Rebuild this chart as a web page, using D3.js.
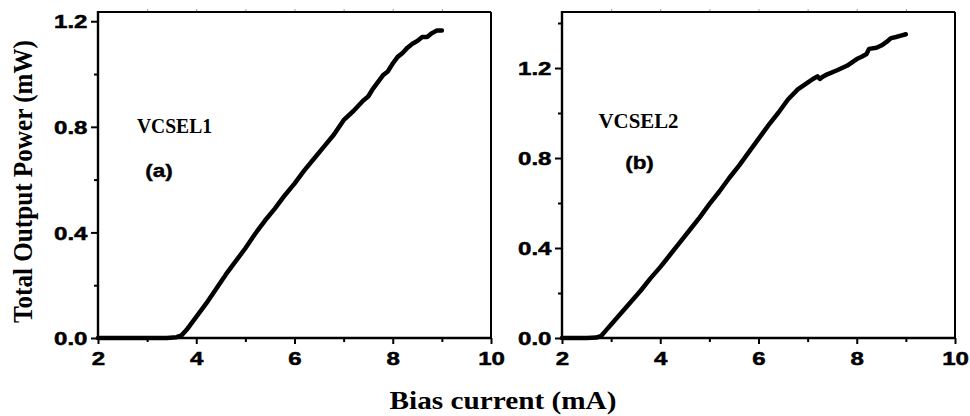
<!DOCTYPE html>
<html>
<head>
<meta charset="utf-8">
<script src="https://cdn.jsdelivr.net/npm/d3@7"></script>
<style>
  html, body { margin: 0; padding: 0; background: #fff; }
  svg { display: block; }
</style>
</head>
<body>
<svg id="chart" width="970" height="416"></svg>
<script>
// ---- Data ----
const xTicks = [2, 4, 6, 8, 10];
const xMinorTicks = [3, 5, 7, 9];
const yTicks = [0.0, 0.4, 0.8, 1.2];
const yMinorTicksA = [0.2, 0.6, 1.0];
const yMinorTicksB = [0.2, 0.6, 1.0, 1.4];

const currentA = [2.0, 2.5, 3.0, 3.4, 3.6, 3.7, 3.8, 4.0, 4.2, 4.4, 4.6, 4.8, 5.0, 5.2, 5.4, 5.6, 5.8, 6.0, 6.2, 6.4, 6.6, 6.8, 7.0, 7.2, 7.4, 7.5, 7.6, 7.8, 7.9, 8.0, 8.1, 8.2, 8.3, 8.4, 8.5, 8.6, 8.7, 8.8, 8.9, 9.0];
const powerA   = [0.0, 0.0, 0.0, 0.0, 0.003, 0.01, 0.03, 0.08, 0.13, 0.185, 0.24, 0.29, 0.34, 0.395, 0.445, 0.49, 0.54, 0.585, 0.635, 0.68, 0.725, 0.77, 0.825, 0.86, 0.9, 0.915, 0.945, 0.995, 1.01, 1.04, 1.065, 1.08, 1.1, 1.115, 1.125, 1.14, 1.14, 1.155, 1.165, 1.165];

const currentB = [2.0, 2.5, 2.7, 2.8, 2.9, 3.0, 3.2, 3.4, 3.6, 3.8, 4.0, 4.2, 4.4, 4.6, 4.8, 5.0, 5.2, 5.4, 5.6, 5.8, 6.0, 6.2, 6.4, 6.6, 6.8, 7.0, 7.1, 7.2, 7.25, 7.3, 7.4, 7.6, 7.8, 8.0, 8.1, 8.2, 8.25, 8.4, 8.5, 8.6, 8.7, 8.8, 8.9, 9.0];
const powerB   = [0.0, 0.0, 0.002, 0.01, 0.035, 0.06, 0.11, 0.16, 0.21, 0.265, 0.315, 0.37, 0.425, 0.48, 0.535, 0.595, 0.65, 0.71, 0.765, 0.825, 0.885, 0.945, 1.0, 1.06, 1.105, 1.135, 1.15, 1.163, 1.152, 1.16, 1.172, 1.19, 1.21, 1.24, 1.25, 1.262, 1.285, 1.29, 1.3, 1.315, 1.333, 1.338, 1.344, 1.35];

const panelNames = ["VCSEL1", "VCSEL2"];
const panelTags = ["(a)", "(b)"];
const xTitle = "Bias current (mA)";
const yTitle = "Total Output Power (mW)";

// ---- Layout ----
const svg = d3.select("#chart");
const sansBold = "'Liberation Sans', Arial, Helvetica, sans-serif";
const serifBold = "'Liberation Serif', 'Times New Roman', Times, serif";

const panels = [
  { x0: 98, x1: 491, y0: 12, y1: 338, ymax: 1.235, cur: currentA, pow: powerA, minor: yMinorTicksA,
    name: panelNames[0], nameX: 137, nameY: 133, nameSize: 20, nameLen: 75,
    tag: panelTags[0], tagX: 159, tagY: 176.5 },
  { x0: 562, x1: 955, y0: 12, y1: 338, ymax: 1.449, cur: currentB, pow: powerB, minor: yMinorTicksB,
    name: panelNames[1], nameX: 598.5, nameY: 127.5, nameSize: 21, nameLen: 80,
    tag: panelTags[1], tagX: 639.5, tagY: 168.5 }
];

function styleLabels(sel, tf, anchor) {
  sel.selectAll("text")
    .attr("x", null).attr("y", null).attr("dy", null)
    .attr("transform", tf)
    .attr("text-anchor", anchor)
    .attr("fill", "#000")
    .attr("stroke", "#000").attr("stroke-width", 0.5)
    .attr("font-family", sansBold).attr("font-weight", "bold").attr("font-size", 18.5);
}

const frames = [];

panels.forEach(p => {
  const x = d3.scaleLinear().domain([2, 10]).range([p.x0, p.x1]);
  const y = d3.scaleLinear().domain([0, p.ymax]).range([p.y1, p.y0]);
  const g = svg.append("g");

  // top ticks (faint)
  g.append("g")
    .attr("transform", `translate(0,${p.y0})`)
    .call(d3.axisTop(x).tickValues(d3.range(3, 10)).tickSize(3).tickSizeOuter(0).tickFormat(""))
    .call(a => a.selectAll(".domain").remove())
    .call(a => a.selectAll("line").attr("stroke", "#999").attr("stroke-width", 1));

  // minor ticks
  g.append("g")
    .attr("transform", `translate(0,${p.y1})`)
    .call(d3.axisBottom(x).tickValues(xMinorTicks).tickSize(4).tickSizeOuter(0).tickFormat(""))
    .call(a => a.selectAll(".domain").remove())
    .call(a => a.selectAll("line").attr("stroke", "#000").attr("stroke-width", 2));
  g.append("g")
    .attr("transform", `translate(${p.x0},0)`)
    .call(d3.axisLeft(y).tickValues(p.minor).tickSize(4).tickSizeOuter(0).tickFormat(""))
    .call(a => a.selectAll(".domain").remove())
    .call(a => a.selectAll("line").attr("stroke", "#000").attr("stroke-width", 2));

  // bottom axis
  g.append("g")
    .attr("transform", `translate(0,${p.y1})`)
    .call(d3.axisBottom(x).tickValues(xTicks).tickSize(6).tickSizeOuter(0).tickFormat(d3.format("d")))
    .call(a => a.selectAll(".domain").remove())
    .call(a => a.selectAll("line").attr("stroke", "#000").attr("stroke-width", 2))
    .call(a => styleLabels(a, "translate(0,26.5) scale(1.3,1)", "middle"));

  // left axis
  g.append("g")
    .attr("transform", `translate(${p.x0},0)`)
    .call(d3.axisLeft(y).tickValues(yTicks).tickSize(7).tickSizeOuter(0).tickFormat(d3.format(".1f")))
    .call(a => a.selectAll(".domain").remove())
    .call(a => a.selectAll("line").attr("stroke", "#000").attr("stroke-width", 2))
    .call(a => styleLabels(a, "translate(-10.5,6.6) scale(1.3,1)", "end"));

  // curve
  const pts = p.cur.map((c, i) => [c, p.pow[i]]);
  g.append("path")
    .datum(pts)
    .attr("fill", "none")
    .attr("stroke", "#000")
    .attr("stroke-width", 4.5)
    .attr("stroke-linejoin", "round")
    .attr("stroke-linecap", "round")
    .attr("d", d3.line().x(d => x(d[0])).y(d => y(d[1])));

  // labels
  g.append("text")
    .attr("x", p.nameX).attr("y", p.nameY)
    .attr("textLength", p.nameLen).attr("lengthAdjust", "spacingAndGlyphs")
    .attr("font-family", serifBold).attr("font-weight", "bold").attr("font-size", p.nameSize)
    .text(p.name);
  g.append("text")
    .attr("transform", `translate(${p.tagX},${p.tagY}) scale(1.25,1)`)
    .attr("text-anchor", "middle")
    .attr("stroke", "#000").attr("stroke-width", 0.4)
    .attr("font-family", sansBold).attr("font-weight", "bold").attr("font-size", 18)
    .text(p.tag);

  const [xa, xb] = x.range();
  const [yb, ya] = y.range();
  frames.push({ xa, xb, ya, yb });
});

// frames drawn last, on top of everything
const frameG = svg.append("g").attr("class", "frames");
frames.forEach(f => {
  const segs = [
    { x1: f.xa, y1: f.ya - 1, x2: f.xa, y2: f.yb + 1, w: 2.4 },
    { x1: f.xa - 1, y1: f.yb, x2: f.xb + 1, y2: f.yb, w: 2.4 },
    { x1: f.xa, y1: f.ya, x2: f.xb, y2: f.ya, w: 2 },
    { x1: f.xb, y1: f.ya, x2: f.xb, y2: f.yb, w: 2 }
  ];
  segs.forEach(s => {
    frameG.append("line")
      .attr("x1", s.x1).attr("y1", s.y1).attr("x2", s.x2).attr("y2", s.y2)
      .attr("stroke", "#000").attr("stroke-width", s.w);
  });
});

// axis titles
svg.append("text")
  .attr("transform", "translate(31.5,181.5) rotate(-90)")
  .attr("text-anchor", "middle")
  .attr("textLength", 283).attr("lengthAdjust", "spacingAndGlyphs")
  .attr("font-family", serifBold).attr("font-weight", "bold").attr("font-size", 28)
  .text(yTitle);

svg.append("text")
  .attr("x", 503).attr("y", 409.3)
  .attr("text-anchor", "middle")
  .attr("textLength", 227).attr("lengthAdjust", "spacingAndGlyphs")
  .attr("font-family", serifBold).attr("font-weight", "bold").attr("font-size", 25)
  .text(xTitle);
</script>
</body>
</html>
